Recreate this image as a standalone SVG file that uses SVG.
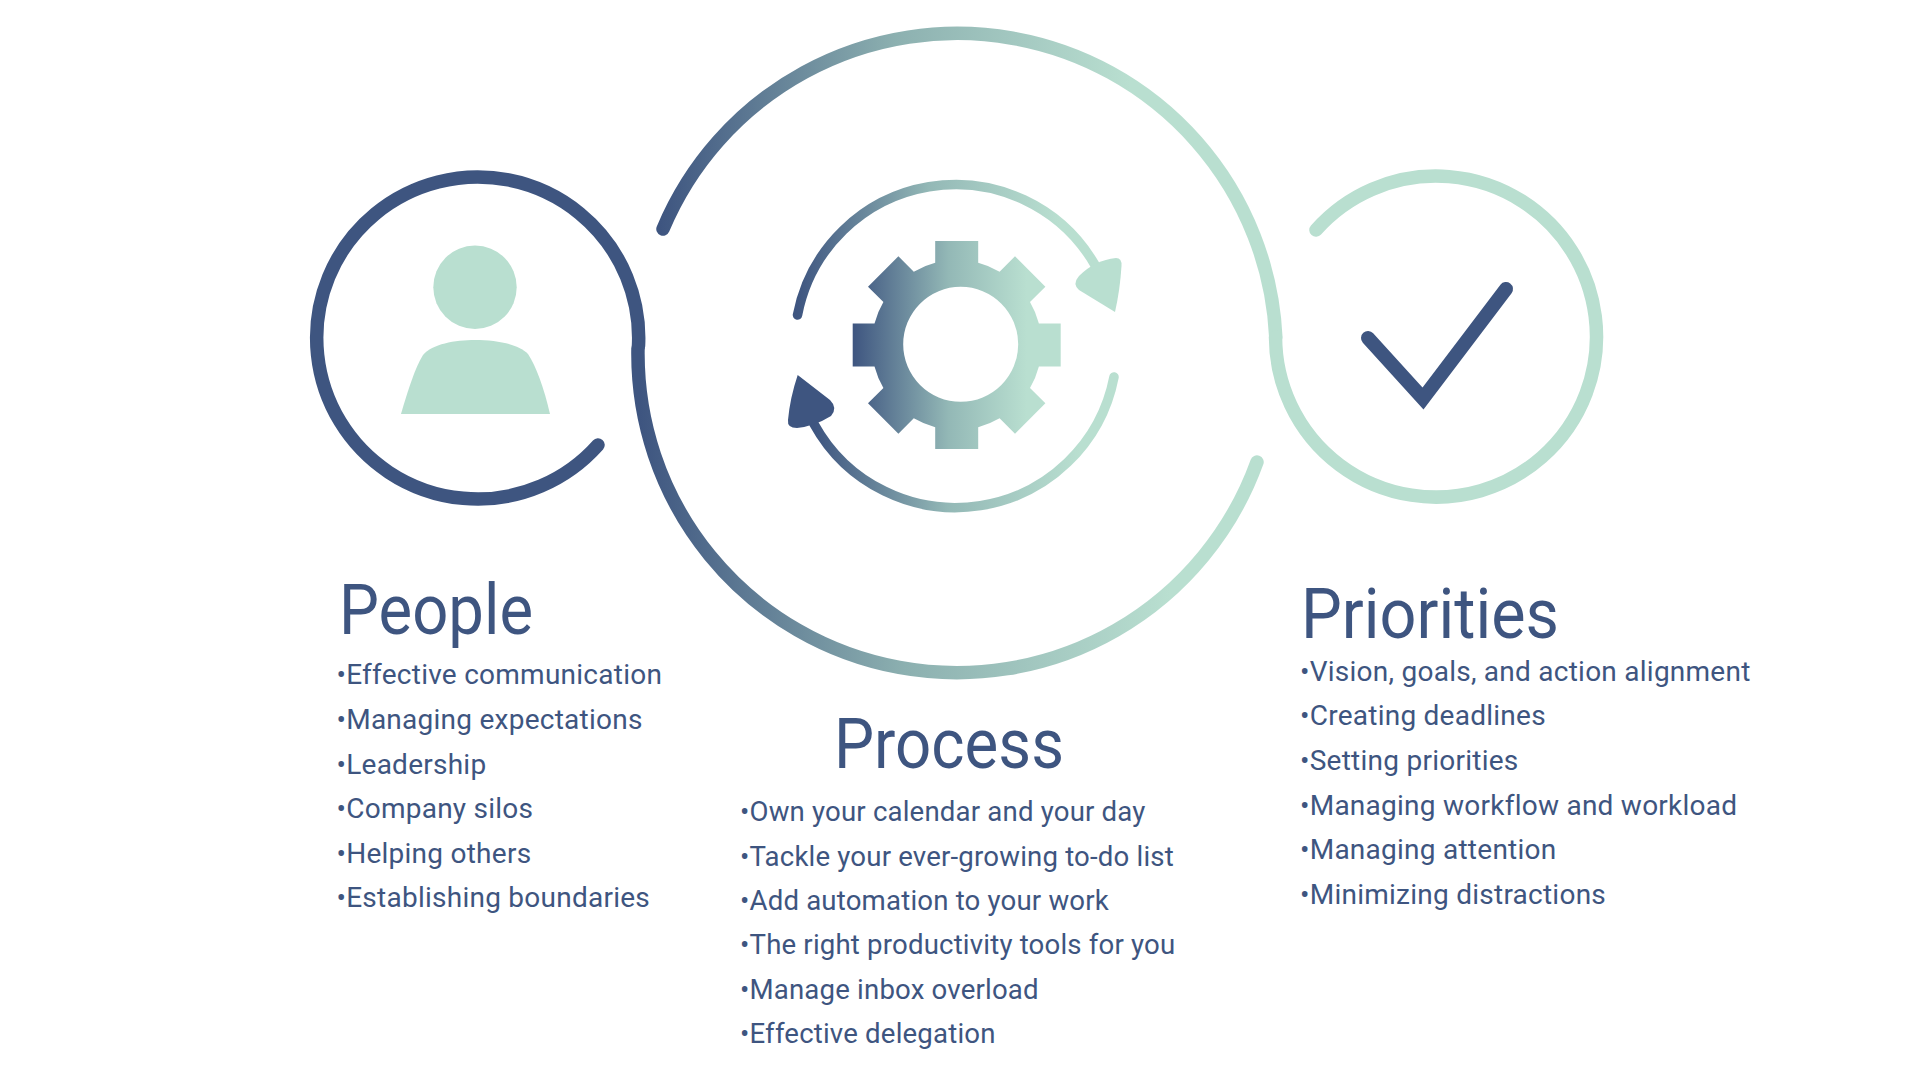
<svg xmlns="http://www.w3.org/2000/svg" width="1922" height="1082" viewBox="0 0 1922 1082">
<style>
.h{font-family:Roboto,"Liberation Sans",sans-serif;font-size:71px;fill:#3e5580}
.t{font-family:Roboto,"Liberation Sans",sans-serif;font-size:28px;letter-spacing:.25px;fill:#3e5580}
.p{font-size:27.6px;letter-spacing:.18px}
.s{fill:none;stroke-linecap:round}
</style>
<defs>
<linearGradient id="gT" gradientUnits="userSpaceOnUse" x1="660" y1="0" x2="1130" y2="0"><stop offset="0" stop-color="#3e5580"/><stop offset="0.5" stop-color="#8cb0b0"/><stop offset="1" stop-color="#b9dfd0"/></linearGradient>
<linearGradient id="gB" gradientUnits="userSpaceOnUse" x1="640" y1="0" x2="1170" y2="0"><stop offset="0" stop-color="#3e5580"/><stop offset="0.5" stop-color="#8cb0b0"/><stop offset="1" stop-color="#b9dfd0"/></linearGradient>
<linearGradient id="gG" gradientUnits="userSpaceOnUse" x1="-104" y1="0" x2="70" y2="0"><stop offset="0" stop-color="#3e5580"/><stop offset="0.55" stop-color="#93b8b6"/><stop offset="1" stop-color="#b9dfd0"/></linearGradient>
<linearGradient id="gA" gradientUnits="userSpaceOnUse" x1="797" y1="0" x2="1060" y2="0"><stop offset="0" stop-color="#3e5580"/><stop offset="0.5" stop-color="#93b8b6"/><stop offset="1" stop-color="#b9dfd0"/></linearGradient>
<linearGradient id="gC" gradientUnits="userSpaceOnUse" x1="815" y1="0" x2="1080" y2="0"><stop offset="0" stop-color="#3e5580"/><stop offset="0.5" stop-color="#93b8b6"/><stop offset="1" stop-color="#b9dfd0"/></linearGradient>
</defs>
<rect width="1922" height="1082" fill="#fff"/>
<g id="connectors">
<path class="s" stroke="#3e5580" stroke-width="13.5" d="M598,445 A161,161 0 1 1 638.5,346"/>
<path class="s" stroke="url(#gB)" stroke-width="13.5" d="M638,348 A319,319 0 0 0 1257,462"/>
<path class="s" stroke="url(#gT)" stroke-width="13.5" d="M663,229 A319,319 0 0 1 1275.8,337"/>
<path class="s" stroke="#b9dfd0" stroke-width="13.5" d="M1275.5,337 A160.5,160.5 0 1 0 1316,230"/>
</g>
<g id="people-icon">
<circle cx="475" cy="287.3" r="41.7" fill="#b9dfd0"/>
<path fill="#b9dfd0" d="M401,414 C408,390 415,368 423,355 C432,344 455,340 475,340 C497,340 518,344 528,354 C536,366 544,388 550,414 Z"/>
</g>
<g id="process-icon">
<path class="s" stroke="url(#gA)" stroke-width="9.5" d="M797.5,315 A161,161 0 0 1 1095,265"/>
<path class="s" stroke="url(#gC)" stroke-width="9.5" d="M1114,377 A161.5,161.5 0 0 1 814,424"/>
<path fill="#b9dfd0" d="M1115,312 L1079,290 Q1072,284 1079,276 Q1095,260 1116,258 Q1122,258 1121.5,266 Q1120,290 1115,312 Z"/>
<path fill="#3e5580" d="M797.7,375 L830,400 Q838,408 831,416 Q815,426 797,428 Q787,428 788,420 Q790,398 797.7,375 Z"/>
<path transform="translate(956.7,345)" fill="url(#gG)" fill-rule="evenodd" d="M-21.5,-82.2 L-21.5,-104 L21.5,-104 L21.5,-82.2 A85,85 0 0 1 42.9,-73.3 L58.3,-88.7 L88.7,-58.3 L73.3,-42.9 A85,85 0 0 1 82.2,-21.5 L104,-21.5 L104,21.5 L82.2,21.5 A85,85 0 0 1 73.3,42.9 L88.7,58.3 L58.3,88.7 L42.9,73.3 A85,85 0 0 1 21.5,82.2 L21.5,104 L-21.5,104 L-21.5,82.2 A85,85 0 0 1 -42.9,73.3 L-58.3,88.7 L-88.7,58.3 L-73.3,42.9 A85,85 0 0 1 -82.2,21.5 L-104,21.5 L-104,-21.5 L-82.2,-21.5 A85,85 0 0 1 -73.3,-42.9 L-88.7,-58.3 L-58.3,-88.7 L-42.9,-73.3 A85,85 0 0 1 -21.5,-82.2 Z M61.5,-0.7 A57.5,57.5 0 1 0 -53.5,-0.7 A57.5,57.5 0 1 0 61.5,-0.7 Z"/>
</g>
<g id="priorities-icon">
<path fill="none" stroke="#3e5580" stroke-width="14" stroke-linejoin="miter" stroke-linecap="round" d="M1368,338 L1423,398.5 L1506,289"/>
</g>
<g id="people-text">
<text class="h" x="339" y="634" textLength="194" lengthAdjust="spacingAndGlyphs">People</text>
<text class="t" x="336.5" y="684">•Effective communication</text>
<text class="t" x="336.5" y="728.5">•Managing expectations</text>
<text class="t" x="336.5" y="773.5">•Leadership</text>
<text class="t" x="336.5" y="817.5">•Company silos</text>
<text class="t" x="336.5" y="862.5">•Helping others</text>
<text class="t" x="336.5" y="906.5">•Establishing boundaries</text>
</g>
<g id="process-text">
<text class="h" x="834" y="768" textLength="230" lengthAdjust="spacingAndGlyphs">Process</text>
<text class="t p" x="740" y="820.5">•Own your calendar and your day</text>
<text class="t p" x="740" y="865.5">•Tackle your ever-growing to-do list</text>
<text class="t p" x="740" y="910">•Add automation to your work</text>
<text class="t p" x="740" y="954">•The right productivity tools for you</text>
<text class="t p" x="740" y="999">•Manage inbox overload</text>
<text class="t p" x="740" y="1043">•Effective delegation</text>
</g>
<g id="priorities-text">
<text class="h" x="1301" y="638" textLength="258" lengthAdjust="spacingAndGlyphs">Priorities</text>
<text class="t" x="1300" y="681">•Vision, goals, and action alignment</text>
<text class="t" x="1300" y="725">•Creating deadlines</text>
<text class="t" x="1300" y="770">•Setting priorities</text>
<text class="t" x="1300" y="814.5">•Managing workflow and workload</text>
<text class="t" x="1300" y="858.5">•Managing attention</text>
<text class="t" x="1300" y="903.5">•Minimizing distractions</text>
</g>
</svg>
